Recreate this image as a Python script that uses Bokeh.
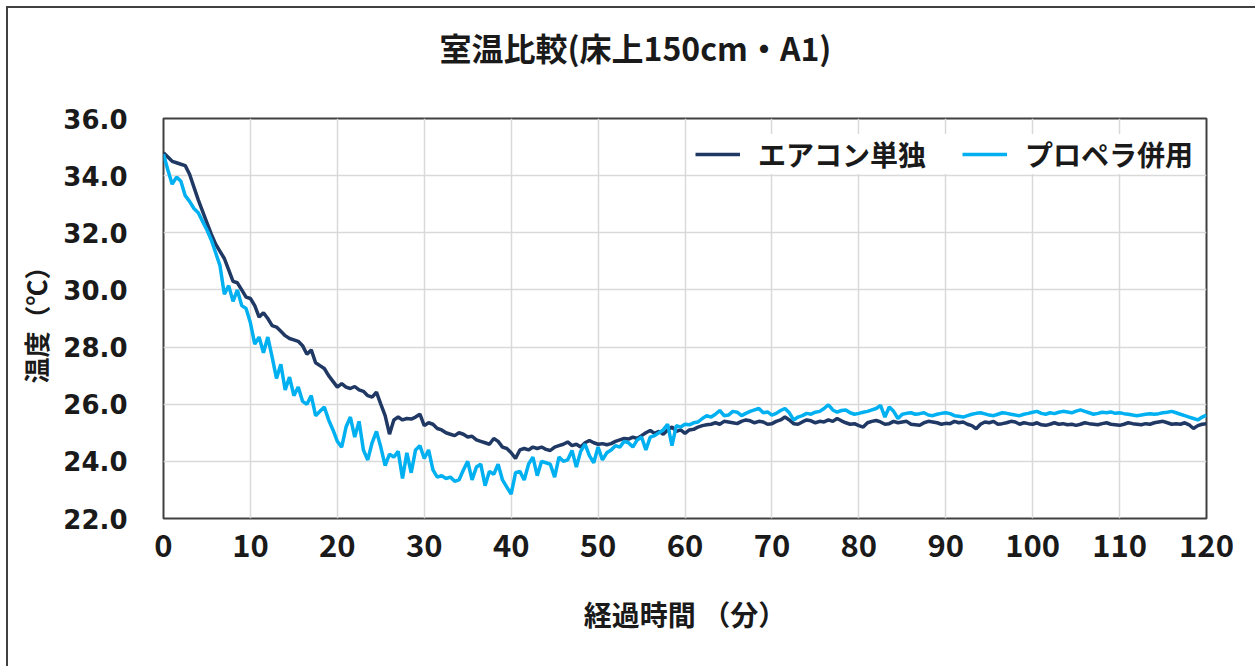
from bokeh.plotting import figure
from bokeh.models import (ColumnDataSource, Legend, LegendItem, FixedTicker,
                          NumeralTickFormatter, Range1d, Title)
from bokeh.embed import file_html
from bokeh.resources import INLINE

# ---- data ----
title_text = "室温比較(床上150cm・A1)"
x_label = "経過時間 （分）"
y_label = "温度（℃）"
series_names = ["エアコン単独", "プロペラ併用"]
x_ticks = [0, 10, 20, 30, 40, 50, 60, 70, 80, 90, 100, 110, 120]
y_ticks = [22, 24, 26, 28, 30, 32, 34, 36]

minutes = [i * 0.5 for i in range(241)]

aircon = [
    34.80, 34.65, 34.50, 34.45, 34.40, 34.35, 34.05, 33.60, 33.15, 32.75,
    32.35, 31.95, 31.60, 31.35, 31.10, 30.70, 30.30, 30.25, 30.00, 29.75,
    29.70, 29.45, 29.05, 29.20, 29.00, 28.75, 28.70, 28.55, 28.40, 28.30,
    28.25, 28.20, 28.05, 27.75, 27.90, 27.45, 27.35, 27.25, 27.00, 26.80,
    26.60, 26.72, 26.60, 26.55, 26.62, 26.50, 26.45, 26.30, 26.25, 26.42,
    26.00, 25.60, 24.95, 25.45, 25.55, 25.45, 25.50, 25.48, 25.55, 25.65,
    25.25, 25.35, 25.30, 25.15, 25.10, 25.00, 24.95, 24.90, 25.00, 24.95,
    24.85, 24.88, 24.75, 24.70, 24.65, 24.60, 24.80, 24.70, 24.50, 24.45,
    24.30, 24.10, 24.40, 24.45, 24.40, 24.50, 24.45, 24.50, 24.42, 24.38,
    24.50, 24.55, 24.60, 24.68, 24.55, 24.60, 24.50, 24.65, 24.73, 24.65,
    24.60, 24.62, 24.58, 24.62, 24.70, 24.75, 24.80, 24.78, 24.85, 24.80,
    24.90, 25.00, 25.08, 24.98, 25.05, 24.95, 25.10, 25.20, 25.05, 25.10,
    24.98, 25.10, 25.12, 25.20, 25.25, 25.28, 25.30, 25.35, 25.30, 25.40,
    25.38, 25.35, 25.32, 25.40, 25.45, 25.42, 25.35, 25.40, 25.38, 25.30,
    25.32, 25.40, 25.45, 25.55, 25.45, 25.32, 25.30, 25.38, 25.45, 25.42,
    25.35, 25.40, 25.38, 25.45, 25.40, 25.50, 25.42, 25.35, 25.30, 25.32,
    25.25, 25.20, 25.35, 25.40, 25.43, 25.38, 25.30, 25.32, 25.40, 25.35,
    25.38, 25.40, 25.30, 25.28, 25.26, 25.35, 25.40, 25.38, 25.35, 25.30,
    25.33, 25.32, 25.40, 25.35, 25.38, 25.30, 25.25, 25.14, 25.30, 25.38,
    25.35, 25.40, 25.30, 25.32, 25.35, 25.40, 25.38, 25.30, 25.35, 25.32,
    25.30, 25.35, 25.28, 25.26, 25.30, 25.35, 25.30, 25.32, 25.28, 25.30,
    25.26, 25.30, 25.35, 25.32, 25.30, 25.28, 25.32, 25.35, 25.30, 25.28,
    25.26, 25.30, 25.35, 25.32, 25.30, 25.28, 25.32, 25.30, 25.35, 25.38,
    25.40, 25.35, 25.30, 25.32, 25.30, 25.35, 25.28, 25.15, 25.25, 25.30,
    25.32,
]

propeller = [
    34.75, 34.20, 33.70, 33.95, 33.80, 33.30, 33.10, 32.85, 32.70, 32.40,
    32.10, 31.75, 31.30, 30.85, 29.85, 30.15, 29.60, 30.00, 29.45, 29.35,
    28.85, 28.10, 28.35, 27.80, 28.35, 27.65, 26.90, 27.40, 26.50, 26.95,
    26.30, 26.60, 26.10, 26.00, 26.30, 25.60, 25.75, 25.90, 25.45, 25.10,
    24.70, 24.50, 25.20, 25.55, 24.85, 25.40, 24.40, 24.05, 24.65, 25.05,
    24.50, 23.85, 24.25, 24.15, 24.35, 23.40, 24.30, 23.60, 24.40, 24.55,
    24.10, 24.40, 23.70, 23.45, 23.50, 23.40, 23.45, 23.30, 23.35, 23.70,
    24.00, 23.35, 23.80, 23.90, 23.15, 23.65, 23.55, 23.90, 23.35, 23.10,
    22.85, 23.60, 23.65, 23.35, 23.90, 24.15, 23.50, 24.00, 23.95, 23.90,
    23.45, 24.15, 24.00, 24.05, 24.38, 23.80, 24.35, 24.60, 24.20, 23.95,
    24.50, 24.05, 24.30, 24.40, 24.55, 24.50, 24.70, 24.65, 24.50, 24.75,
    24.85, 24.40, 24.85, 24.90, 25.00, 25.10, 25.30, 24.55, 25.25, 25.20,
    25.30, 25.28, 25.35, 25.38, 25.50, 25.60, 25.55, 25.65, 25.78, 25.60,
    25.62, 25.75, 25.72, 25.60, 25.68, 25.75, 25.80, 25.85, 25.70, 25.73,
    25.62, 25.68, 25.78, 25.85, 25.70, 25.45, 25.55, 25.60, 25.68, 25.65,
    25.72, 25.75, 25.85, 25.98, 25.80, 25.72, 25.78, 25.80, 25.70, 25.65,
    25.68, 25.72, 25.75, 25.80, 25.85, 25.96, 25.55, 25.90, 25.75, 25.50,
    25.65, 25.68, 25.70, 25.65, 25.67, 25.70, 25.62, 25.60, 25.65, 25.68,
    25.70, 25.67, 25.60, 25.58, 25.55, 25.60, 25.65, 25.68, 25.70, 25.66,
    25.62, 25.60, 25.65, 25.70, 25.68, 25.65, 25.62, 25.60, 25.65, 25.68,
    25.72, 25.75, 25.68, 25.65, 25.70, 25.67, 25.72, 25.75, 25.73, 25.70,
    25.76, 25.80, 25.75, 25.70, 25.65, 25.68, 25.72, 25.70, 25.73, 25.68,
    25.70, 25.67, 25.65, 25.62, 25.60, 25.62, 25.65, 25.67, 25.65, 25.67,
    25.70, 25.72, 25.75, 25.70, 25.65, 25.60, 25.55, 25.50, 25.45, 25.55,
    25.62,
]

colors = ["#203864", "#00B0F0"]

src = ColumnDataSource(dict(t=minutes, a=aircon, b=propeller))

CJK = "Noto Sans CJK JP"

p = figure(frame_width=1043, frame_height=400,
           min_border_left=155, min_border_right=49,
           min_border_top=110, min_border_bottom=148,
           x_range=Range1d(0, 120), y_range=Range1d(22, 36),
           output_backend="svg", toolbar_location=None)
p.styles = {"border-top": "2px solid #404040", "border-left": "2px solid #404040",
            "margin-left": "6px", "margin-top": "6px"}

p.background_fill_color = "white"
p.border_fill_color = "white"
p.outline_line_color = "#404040"
p.outline_line_width = 2

# spacer between frame and title, then the chart title
spacer = Title(text=" ", text_font_size="1px", standoff=34)
p.add_layout(spacer, "above")
chart_title = Title(text=title_text, align="left", offset=276, standoff=24,
                    text_font=CJK, text_font_style="bold", text_font_size="32px",
                    text_color="#1a1a1a")
p.add_layout(chart_title, "above")

r1 = p.line("t", "a", source=src, line_color=colors[0], line_width=3.5)
r2 = p.line("t", "b", source=src, line_color=colors[1], line_width=3.5)

# axes
p.xaxis.ticker = FixedTicker(ticks=x_ticks)
p.yaxis.ticker = FixedTicker(ticks=y_ticks)
p.yaxis.formatter = NumeralTickFormatter(format="0.0")
for ax in (p.xaxis[0], p.yaxis[0]):
    ax.axis_line_color = None
    ax.major_tick_line_color = None
    ax.minor_tick_line_color = None
    ax.major_tick_out = 0
    ax.major_tick_in = 0
    ax.major_label_text_color = "#1a1a1a"
    ax.major_label_text_font_style = "bold"
    ax.axis_label_text_font = CJK
    ax.axis_label_text_font_style = "bold"
    ax.axis_label_text_color = "#1a1a1a"

p.xaxis.major_label_text_font = CJK
p.xaxis.major_label_text_font_size = "31px"
p.xaxis.major_label_standoff = 15
p.xaxis.axis_label = x_label
p.xaxis.axis_label_text_font_size = "28px"
p.xaxis.axis_label_standoff = 34

p.yaxis.major_label_text_font = "DejaVu Sans"
p.yaxis.major_label_text_font_size = "26px"
p.yaxis.major_label_standoff = 36
p.yaxis.axis_label = y_label
p.yaxis.axis_label_text_font_size = "26px"
p.yaxis.axis_label_standoff = 6

p.xgrid.grid_line_color = "#d9d9d9"
p.ygrid.grid_line_color = "#d9d9d9"
p.xgrid.grid_line_width = 1.5
p.ygrid.grid_line_width = 1.5

legend = Legend(items=[LegendItem(label=series_names[0], renderers=[r1]),
                       LegendItem(label=series_names[1], renderers=[r2])],
                orientation="horizontal", location=(532, 344))
legend.label_text_font = CJK
legend.label_text_font_style = "bold"
legend.label_text_font_size = "28px"
legend.label_text_color = "#1a1a1a"
legend.glyph_width = 45
legend.glyph_height = 30
legend.label_height = 30
legend.label_standoff = 18
legend.spacing = 36
legend.margin = 0
legend.padding = 4
legend.border_line_color = None
legend.background_fill_color = "white"
legend.background_fill_alpha = 1.0
p.add_layout(legend)

open("out.html", "w").write(file_html(p, INLINE))
